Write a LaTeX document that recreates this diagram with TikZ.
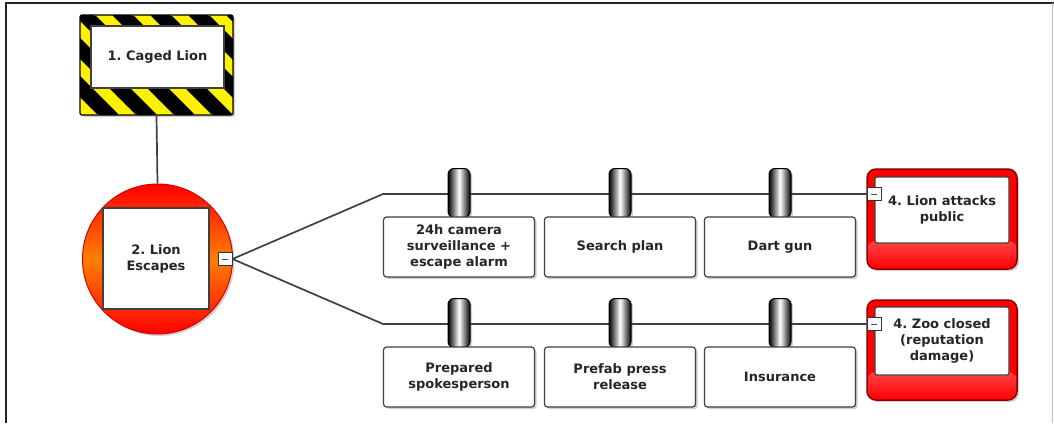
\documentclass[tikz,border=0pt]{standalone}
\usepackage{fontspec}
\setmainfont{DejaVu Sans}
\frenchspacing
\usetikzlibrary{calc, shadows, positioning}
\tikzset{>=stealth}
\tikzset{
  lbl/.style={font=\fontsize{13}{16}\selectfont\bfseries, text=black!85, align=center},
  shadowed/.style={drop shadow={shadow xshift=2pt, shadow yshift=-2pt, opacity=0.3, fill=black!60}},
  link/.style={draw=black!75, line width=1.7pt},
  hazard/.style={draw=black, line width=1.2pt, fill=yellow, rounded corners=2pt,
    minimum width=153pt, minimum height=100pt, inner sep=0pt, shadowed,
    path picture={\foreach \s in {-120,-82,...,200}
      \fill[black] ($(path picture bounding box.north west)+(\s,0)$) -- ++(21,0) -- ++(100,100) -- ++(-21,0) -- cycle;}},
  whitebox/.style={draw=black!75, line width=1.2pt, fill=white, inner sep=0pt, lbl},
  barrierbox/.style={whitebox, rounded corners=3pt, minimum width=151pt, minimum height=60pt, shadowed},
  barrier/.style={draw=black, line width=1pt, rounded corners=6pt, minimum width=22pt,
    minimum height=49pt, inner sep=0pt, left color=black, right color=black, middle color=white, shadowed},
  toggle/.style={draw=black!80, line width=1pt, fill=white, minimum width=14pt, minimum height=13pt, inner sep=0pt,
    path picture={\draw[black!70, line width=0.8pt] ([xshift=-3pt]path picture bounding box.center) -- ([xshift=3pt]path picture bounding box.center);}},
  consequence/.style={draw=red!55!black, line width=1.5pt, fill=red, rounded corners=9pt,
    minimum width=150pt, minimum height=100pt, inner sep=0pt, shadowed,
    path picture={\shade[top color=red!5, bottom color=red] (path picture bounding box.south west) rectangle ([yshift=28pt]path picture bounding box.south east);}}
}

\begin{document}
\begin{tikzpicture}[x=1pt, y=-1pt]
\useasboundingbox (0,0) rectangle (1054,423);
\fill[white] (0,0) rectangle (1054,423);
\draw[line width=1.5pt, black!85] (6,423) -- (6,3) -- (1054,3);
\draw[black!25] (1052,3) -- (1052,423);

\node[hazard] (cagedframe) at (156.5,65) {};
\node[whitebox, minimum width=133pt, minimum height=62pt] (caged) at (157.5,57) {1. Caged Lion};

\node[circle, minimum size=150pt, draw=red!85!black, line width=1pt, top color=red, bottom color=red, middle color=orange, shadowed] (escape) at (157.5,259) {};
\node[whitebox, minimum width=106pt, minimum height=101pt] (escapebox) at (156,258.5) {2. Lion\\Escapes};
\node[toggle] (escapetoggle) at (225,259) {};

\node[consequence] (attack) at (942,219) {};
\node[whitebox, minimum width=134pt, minimum height=66pt, rounded corners=2pt] (attackbox) at (942,210) {4. Lion attacks\\public};
\node[toggle] (attacktoggle) at (874,194) {};

\node[consequence] (closed) at (942,350) {};
\node[whitebox, minimum width=134pt, minimum height=68pt, rounded corners=2pt] (closedbox) at (942,341) {4. Zoo closed\\(reputation\\damage)};
\node[toggle] (closedtoggle) at (874,324) {};

\coordinate (forktop) at (383,194);
\coordinate (forkbot) at (383,324);
\draw[link] (cagedframe.south) -- (escape.north);
\draw[link] (escapetoggle.east) -- (forktop) -- (attacktoggle.west);
\draw[link] (escapetoggle.east) -- (forkbot) -- (closedtoggle.west);

\foreach \x/\name/\txt in {459/camera/{24h camera\\surveillance +\\escape alarm}, 620/search/{Search plan}, 780/dart/{Dart gun}}{
  \node[barrier] (\name) at (\x,193) {};
  \node[barrierbox] (\name-box) at (\x,247) {\txt};
}
\foreach \x/\name/\txt in {459/spokes/{Prepared\\spokesperson}, 620/press/{Prefab press\\release}, 780/insure/{Insurance}}{
  \node[barrier] (\name) at (\x,323) {};
  \node[barrierbox] (\name-box) at (\x,377) {\txt};
}
\end{tikzpicture}
\end{document}
